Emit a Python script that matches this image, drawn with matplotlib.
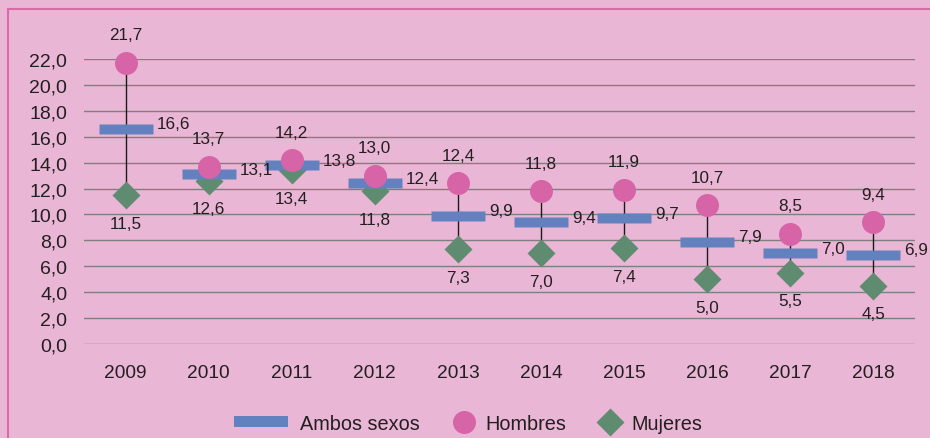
import matplotlib
matplotlib.use("Agg")
import matplotlib.pyplot as plt
import numpy as np
from matplotlib.path import Path
from matplotlib.lines import Line2D
from matplotlib.patches import Rectangle
from matplotlib.legend_handler import HandlerPatch

plt.rcParams['font.family'] = ['Liberation Sans', 'DejaVu Sans']

years = ['2009', '2010', '2011', '2012', '2013', '2014', '2015', '2016', '2017', '2018']
ambos = [16.6, 13.1, 13.8, 12.4, 9.9, 9.4, 9.7, 7.9, 7.0, 6.9]
hombres = [21.7, 13.7, 14.2, 13.0, 12.4, 11.8, 11.9, 10.7, 8.5, 9.4]
mujeres = [11.5, 12.6, 13.4, 11.8, 7.3, 7.0, 7.4, 5.0, 5.5, 4.5]
yticks = [0, 2, 4, 6, 8, 10, 12, 14, 16, 18, 20, 22]

BG = '#eab6d5'
BLUE = '#6381bf'
PINK = '#d864a8'
GREEN = '#5f8c70'
TXT = '#231f20'
DPI = 100
px = 72.0 / DPI  # points per pixel

fig = plt.figure(figsize=(9.30, 4.39), dpi=DPI, facecolor=BG)
ax = fig.add_axes([84/930, 1-345/439, (915-84)/930, (345-60)/439])
ax.set_facecolor(BG)

x = np.arange(len(years))
fmt = lambda v: f"{v:.1f}".replace('.', ',')

# grid
for t in yticks:
    ax.axhline(t, color='#7f7f7f', lw=1.0, zorder=1)

lo = np.minimum(np.minimum(ambos, hombres), mujeres)
hi = np.maximum(np.maximum(ambos, hombres), mujeres)
ax.vlines(x, lo, hi, color='#1a1a1a', lw=1.0, zorder=2)

rect_marker = Path([(-5, -1), (5, -1), (5, 1), (-5, 1), (-5, -1)],
                   [Path.MOVETO, Path.LINETO, Path.LINETO, Path.LINETO, Path.CLOSEPOLY])

ax.plot(x, mujeres, ls='none', marker='D', ms=19.5*px, color=GREEN, mec='none', zorder=3, clip_on=False)
ax.plot(x, ambos, ls='none', marker=rect_marker, ms=54*px, color=BLUE, mec='none', zorder=4, clip_on=False)
ax.plot(x, hombres, ls='none', marker='o', ms=23*px, color=PINK, mec='none', zorder=5, clip_on=False)

lfs = 12.3
for i in range(len(years)):
    ax.annotate(fmt(hombres[i]), (x[i], hombres[i]), xytext=(0, 28*px), textcoords='offset points',
                ha='center', va='center', fontsize=lfs, color=TXT, zorder=6)
    ax.annotate(fmt(mujeres[i]), (x[i], mujeres[i]), xytext=(0, -28*px), textcoords='offset points',
                ha='center', va='center', fontsize=lfs, color=TXT, zorder=6)
    ax.annotate(fmt(ambos[i]), (x[i], ambos[i]), xytext=(31*px, 5*px), textcoords='offset points',
                ha='left', va='center', fontsize=lfs, color=TXT, zorder=6)

ax.set_xlim(-0.5, len(years) - 0.5)
ax.set_ylim(0, 22)
ax.set_xticks(x)
ax.set_xticklabels(years)
ax.set_yticks(yticks)
ax.set_yticklabels([fmt(t) for t in yticks])
ax.tick_params(axis='both', length=0, labelcolor=TXT)
ax.tick_params(axis='x', pad=14.5, labelsize=13.8)
ax.tick_params(axis='y', pad=12, labelsize=14)
for s in ax.spines.values():
    s.set_visible(False)

# legend
fs = 14.3
class BarHandler(HandlerPatch):
    def create_artists(self, legend, orig_handle, xdescent, ydescent, width, height, fontsize, trans):
        w = 54 * px
        h = 10.5 * px
        x0 = -xdescent + width + 0.52 * fontsize - 12 * px - w
        y0 = -ydescent + (height - h) / 2
        p = Rectangle((x0, y0), w, h, facecolor=BLUE, edgecolor='none', transform=trans)
        return [p]

h_ambos = Rectangle((0, 0), 1, 1, facecolor=BLUE)
h_homb = Line2D([], [], ls='none', marker='o', ms=23*px, color=PINK, mec='none')
h_muj = Line2D([], [], ls='none', marker='D', ms=19.5*px, color=GREEN, mec='none')
leg = fig.legend([h_ambos, h_homb, h_muj], ['Ambos sexos', 'Hombres', 'Mujeres'],
                 handler_map={h_ambos: BarHandler()},
                 loc='center', bbox_to_anchor=(0.5215, 0.034), ncol=3, frameon=False,
                 fontsize=fs, handlelength=1.15, handletextpad=0.5, columnspacing=1.65,
                 numpoints=1)
for t in leg.get_texts():
    t.set_color(TXT)

# border lines (top and left)
fig.add_artist(Line2D([8/930, 1], [1-10/439, 1-10/439], transform=fig.transFigure, color='#dc6aa6', lw=1.5))
fig.add_artist(Line2D([8/930, 8/930], [0, 1-10/439], transform=fig.transFigure, color='#dc6aa6', lw=1.5))

fig.savefig('out.png', dpi=DPI, facecolor=BG)
